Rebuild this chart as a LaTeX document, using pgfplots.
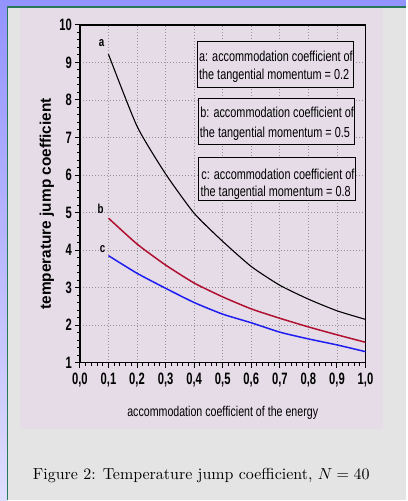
\documentclass[border=0pt]{standalone}
\usepackage{fontspec}
\usepackage{graphicx}
\usepackage{pgfplots}
\pgfplotsset{compat=1.18}
\newfontfamily\narrow[FakeStretch=0.75]{Liberation Sans}
\newfontfamily\narrowtick[FakeStretch=0.68]{Liberation Sans}
\newfontfamily\lsans{Liberation Sans}
\definecolor{pagegray}{RGB}{228,228,228}
\definecolor{plotpink}{RGB}{230,220,232}
\definecolor{bandblue}{RGB}{148,148,255}
\definecolor{bandlight}{RGB}{222,222,255}
\definecolor{edgegreen}{RGB}{40,120,90}
\definecolor{curvered}{RGB}{176,16,48}
\definecolor{curveblue}{RGB}{30,30,240}
\definecolor{gridgray}{RGB}{150,150,150}
\begin{document}
\begin{tikzpicture}[x=1pt,y=1pt]
\fill[pagegray] (0,0) rectangle (407,-501);
\fill[bandblue] (0,0) rectangle (407,-6.5);
\shade[top color=bandblue,bottom color=bandlight] (0,-6.5) rectangle (7,-501);
\draw[edgegreen,line width=1.3pt] (7.6,-501) -- (7.6,-7.1) -- (407,-7.1);
\fill[plotpink] (20,-8) rectangle (383,-430);
\begin{axis}[
  at={(80pt,-363pt)}, anchor=south west,
  scale only axis, width=286pt, height=338pt,
  xmin=0, xmax=1, ymin=1, ymax=10,
  xtick={0,0.1,0.2,0.3,0.4,0.5,0.6,0.7,0.8,0.9,1},
  xticklabels={{0,0},{0,1},{0,2},{0,3},{0,4},{0,5},{0,6},{0,7},{0,8},{0,9},{1,0}},
  ytick={1,2,3,4,5,6,7,8,9,10},
  yticklabels={1,2,3,4,5,6,7,8,9,10},
  minor x tick num=4, minor y tick num=4,
  tick pos=left, tick align=outside,
  major tick length=5pt, minor tick length=3pt,
  every tick/.style={black, line width=1pt},
  axis line style={black, line width=1.3pt},
  grid=major,
  major grid style={gridgray, line width=0.8pt, dash pattern=on 0.9pt off 2.1pt},
  ticklabel style={font=\narrowtick\bfseries\fontsize{16.5}{19}\selectfont, black},
  xticklabel style={yshift=-2pt},
  yticklabel style={xshift=0.5pt},
  xlabel={accommodation coefficient of the energy},
  xlabel style={font=\narrow\fontsize{14.2}{17}\selectfont, at={(axis description cs:0.5,-0.150)}, anchor=center},
  ylabel={temperature jump coefficient},
  ylabel style={font=\lsans\bfseries\fontsize{15.4}{18}\selectfont, at={(axis description cs:-0.1154,0.47)}, anchor=center},
]
\addplot[black, line width=1.1pt, smooth, tension=0.35] coordinates {
(0.1,9.22)(0.2,7.30)(0.3,6.03)(0.4,4.98)(0.5,4.23)(0.6,3.56)(0.7,3.06)(0.8,2.69)(0.9,2.38)(1.0,2.15)};
\addplot[curvered, line width=1.5pt, smooth, tension=0.35] coordinates {
(0.1,4.85)(0.2,4.16)(0.3,3.60)(0.4,3.12)(0.5,2.75)(0.6,2.43)(0.7,2.18)(0.8,1.95)(0.9,1.74)(1.0,1.54)};
\addplot[curveblue, line width=1.5pt, smooth, tension=0.35] coordinates {
(0.1,3.85)(0.2,3.38)(0.3,2.98)(0.4,2.60)(0.5,2.29)(0.6,2.06)(0.7,1.81)(0.8,1.63)(0.9,1.47)(1.0,1.29)};
\end{axis}
% curve labels
\node[font=\narrow\bfseries\fontsize{13}{15}\selectfont] at (101.7,-43.3) {a};
\node[font=\narrow\bfseries\fontsize{13}{15}\selectfont] at (100.7,-209.3) {b};
\node[font=\narrow\bfseries\fontsize{13}{15}\selectfont] at (102.7,-249.3) {c};
% legend boxes
\filldraw[fill=plotpink, draw=black, line width=1.2pt] (197.7,-41.7) rectangle (354.3,-87.3);
\filldraw[fill=plotpink, draw=black, line width=1.2pt] (199,-99) rectangle (355,-144.3);
\filldraw[fill=plotpink, draw=black, line width=1.2pt] (199,-157.3) rectangle (356,-200.7);
\begin{scope}[every node/.style={font=\narrow\fontsize{14.5}{17}\selectfont, inner sep=0pt, anchor=base west}]
\node at (199.2,-61.7) {a: accommodation coefficient of};
\node at (199.2,-79.6) {the tangential momentum = 0.2};
\node at (200.5,-117.5) {b: accommodation coefficient of};
\node at (200.0,-137.3) {the tangential momentum = 0.5};
\node at (201.5,-179.3) {c: accommodation coefficient of};
\node at (200.7,-196.7) {the tangential momentum = 0.8};
\end{scope}
% caption
\node at (201.5,-476.5) {\resizebox{337pt}{!}{Figure 2: Temperature jump coefficient, $N=40$}};
\end{tikzpicture}
\end{document}
